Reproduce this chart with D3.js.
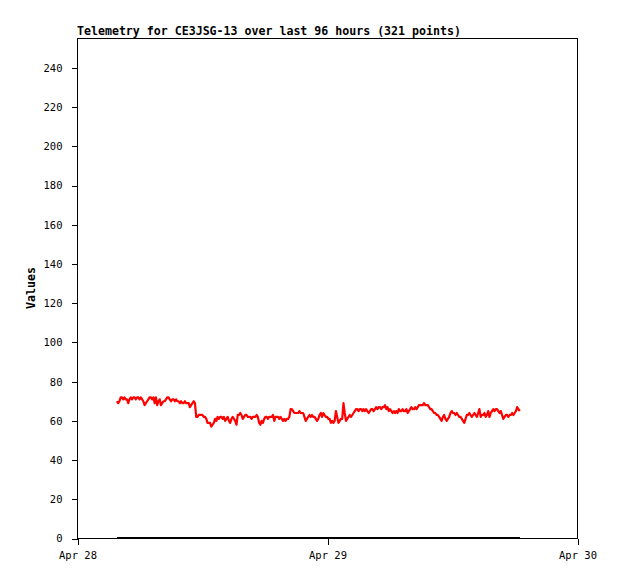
<!DOCTYPE html>
<html>
<head>
<meta charset="utf-8">
<script src="https://cdn.jsdelivr.net/npm/d3@7"></script>
<style>
  body { margin: 0; background: #fff; }
  svg { display: block; }
</style>
</head>
<body>
<div id="chart"></div>
<script>
const TITLE = 'Telemetry for CE3JSG-13 over last 96 hours (321 points)';
const Y_LABEL = 'Values';

// x axis: three day ticks
const X_TICKS = ['2024-04-28T00:00', '2024-04-29T00:00', '2024-04-30T00:00'];
const X_TICK_LABELS = ['Apr 28', 'Apr 29', 'Apr 30'];
const Y_TICKS = [0, 20, 40, 60, 80, 100, 120, 140, 160, 180, 200, 220, 240];
const Y_MAX = 255;

// sampling: first point and interval between samples
const FIRST_SAMPLE = '2024-04-28T03:47';
const SAMPLE_MINUTES = 7.25;

// red series
const VALUES = [
  70, 69, 70, 72, 72, 71, 72, 71, 71, 69, 71, 72, 71, 72, 72, 71, 72, 72, 71, 72,
  71, 70, 68, 69, 70, 71, 72, 72, 71, 72, 69, 72, 68, 70, 71, 68, 69, 70, 70, 71,
  72, 72, 71, 70, 71, 71, 70, 71, 70, 70, 69, 70, 69, 69, 70, 69, 69, 69, 67, 68,
  69, 70, 69, 62, 62, 63, 63, 63, 63, 62, 62, 61, 59, 59, 59, 57, 58, 59, 61, 60,
  62, 61, 62, 62, 61, 62, 60, 61, 62, 60, 59, 61, 62, 61, 60, 58, 63, 63, 64, 63,
  61, 62, 63, 63, 62, 62, 62, 61, 62, 62, 62, 63, 62, 59, 58, 60, 59, 61, 62, 62,
  61, 62, 62, 62, 63, 60, 62, 62, 62, 61, 62, 61, 60, 61, 60, 61, 61, 62, 66, 66,
  65, 64, 64, 64, 64, 65, 64, 64, 64, 62, 60, 61, 62, 63, 62, 63, 62, 62, 61, 60,
  61, 63, 64, 62, 64, 63, 62, 62, 61, 61, 59, 60, 59, 60, 65, 62, 59, 60, 61, 61,
  69, 64, 60, 61, 62, 63, 62, 63, 64, 65, 66, 66, 65, 66, 66, 65, 66, 65, 66, 65,
  64, 65, 66, 66, 65, 66, 67, 66, 67, 67, 66, 67, 67, 68, 66, 67, 65, 66, 65, 64,
  65, 64, 65, 64, 66, 65, 65, 66, 65, 65, 66, 64, 65, 66, 67, 66, 66, 67, 66, 67,
  68, 68, 68, 68, 69, 68, 68, 68, 67, 66, 66, 65, 64, 64, 63, 63, 62, 61, 60, 62,
  63, 61, 60, 61, 62, 64, 65, 64, 64, 63, 64, 63, 62, 62, 61, 60, 59, 61, 63, 63,
  64, 63, 62, 63, 64, 63, 62, 64, 66, 62, 63, 63, 64, 62, 63, 65, 62, 64, 65, 66,
  65, 66, 66, 65, 64, 65, 63, 61, 62, 63, 63, 62, 63, 63, 64, 63, 64, 65, 67, 66,
  65
];
// black series sits on zero the whole time
const ZERO_VALUES = VALUES.map(() => 0);

const WIDTH = 618;
const HEIGHT = 579;
const PLOT = { left: 77.5, right: 577.5, top: 38.5, bottom: 538.5 };
const FONT = '"DejaVu Sans Mono", "Liberation Mono", monospace';

let parseTime = d3.isoParse;
let t0 = parseTime(FIRST_SAMPLE);
let times = VALUES.map((v, i) => new Date(t0.getTime() + i * SAMPLE_MINUTES * 60000));

let xScale = d3.scaleTime()
  .domain([parseTime(X_TICKS[0]), parseTime(X_TICKS[X_TICKS.length - 1])])
  .range([PLOT.left, PLOT.right]);
let yScale = d3.scaleLinear()
  .domain([0, Y_MAX])
  .range([PLOT.bottom, PLOT.top]);

let svg = d3.select('#chart').append('svg')
  .attr('width', WIDTH)
  .attr('height', HEIGHT)
  .style('background-color', '#fff');

// Title
svg.append('text')
  .text(TITLE)
  .attr('x', 77)
  .attr('y', 35)
  .attr('font-family', FONT)
  .attr('font-size', 11.6)
  .attr('font-weight', 'bold')
  .style('fill', '#000');

// Y axis label
svg.append('text')
  .text(Y_LABEL)
  .attr('transform', 'translate(35,288) rotate(-90)')
  .attr('text-anchor', 'middle')
  .attr('font-family', FONT)
  .attr('font-size', 11.6)
  .attr('font-weight', 'bold')
  .style('fill', '#000');

// Y axis
let yAxis = d3.axisLeft(yScale)
  .tickValues(Y_TICKS)
  .tickSize(6)
  .tickPadding(9);
let yg = svg.append('g')
  .attr('transform', `translate(${PLOT.left},0)`)
  .call(yAxis);

// X axis
let xTickDates = X_TICKS.map(parseTime);
let xAxis = d3.axisBottom(xScale)
  .tickValues(xTickDates)
  .tickFormat((d, i) => X_TICK_LABELS[i])
  .tickSize(6)
  .tickPadding(7);
let xg = svg.append('g')
  .attr('transform', `translate(0,${PLOT.bottom})`)
  .call(xAxis);

for (let g of [xg, yg]) {
  g.select('.domain').remove();
  g.selectAll('line')
    .style('stroke', '#000')
    .style('shape-rendering', 'crispEdges');
  g.selectAll('text')
    .attr('font-family', FONT)
    .attr('font-size', 10.5)
    .style('fill', '#000');
}

// Frame
svg.append('rect')
  .attr('x', PLOT.left)
  .attr('y', PLOT.top)
  .attr('width', PLOT.right - PLOT.left)
  .attr('height', PLOT.bottom - PLOT.top)
  .style('fill', 'none')
  .style('stroke', '#000')
  .style('stroke-width', 1)
  .style('shape-rendering', 'crispEdges');

// Series
let line = d3.line()
  .x((d, i) => xScale(times[i]))
  .y(d => yScale(d));

svg.append('path')
  .datum(ZERO_VALUES)
  .attr('d', line)
  .attr('transform', 'translate(0,-0.5)')
  .style('fill', 'none')
  .style('stroke', '#000')
  .style('stroke-width', 2)
  .style('shape-rendering', 'crispEdges');

svg.append('path')
  .datum(VALUES)
  .attr('d', line)
  .style('fill', 'none')
  .style('stroke', '#ff0000')
  .style('stroke-width', 2.2)
  .style('stroke-linejoin', 'round');
</script>
</body>
</html>
